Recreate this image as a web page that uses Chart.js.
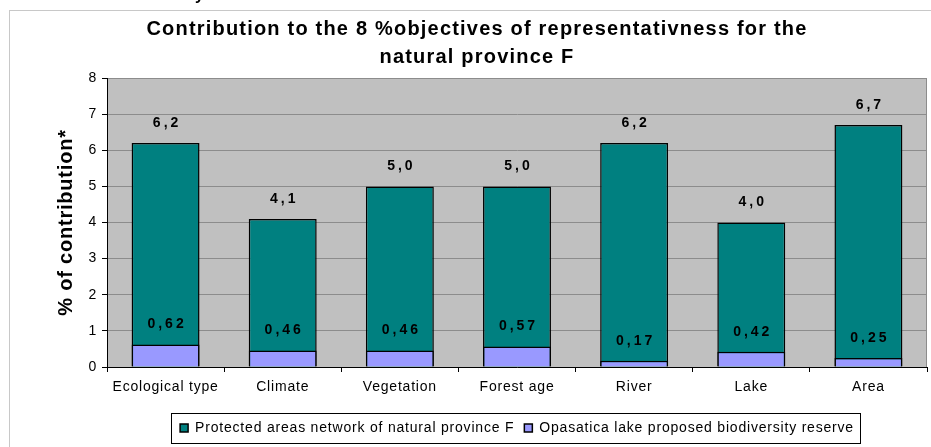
<!DOCTYPE html>
<html>
<head>
<meta charset="utf-8">
<script src="https://cdn.jsdelivr.net/npm/chart.js@4/dist/chart.umd.min.js"></script>
<style>
  html, body { margin: 0; padding: 0; background: #fff; }
  #wrap { width: 931px; height: 447px; }
</style>
</head>
<body>
<div id="wrap"><canvas id="myChart" width="931" height="447"></canvas></div>
<script>
const categories = ['Ecological type', 'Climate', 'Vegetation', 'Forest age', 'River', 'Lake', 'Area'];
const networkValues = [6.2, 4.1, 5.0, 5.0, 6.2, 4.0, 6.7];
const reserveValues = [0.62, 0.46, 0.46, 0.57, 0.17, 0.42, 0.25];
const yTicks = [0, 1, 2, 3, 4, 5, 6, 7, 8];
const titleLines = ['Contribution to the 8 %objectives of representativness for the', 'natural province F'];

const FONT = "'Liberation Sans', Arial, sans-serif";
Chart.defaults.font.family = FONT;
Chart.defaults.color = '#000';

// the source chart has loosely spaced text everywhere
const spacing = {
    id: 'spacing',
    beforeLayout(chart) { chart.ctx.letterSpacing = '0.8px'; },
    beforeDraw(chart) { chart.ctx.letterSpacing = '0.8px'; }
};

// white page, light frame and grey plot area, title
const backgroundPlugin = {
    id: 'background',
    beforeDraw(chart) {
        const ctx = chart.ctx;
        const a = chart.chartArea;
        ctx.save();
        ctx.fillStyle = '#fff';
        ctx.fillRect(0, 0, chart.width, chart.height);
        ctx.strokeStyle = '#c8c8c8';
        ctx.lineWidth = 1;
        ctx.strokeRect(9.5, 10.5, chart.width + 20, chart.height + 20);
        ctx.fillStyle = '#c0c0c0';
        ctx.fillRect(a.left, a.top, a.right - a.left, a.bottom - a.top);
        ctx.strokeStyle = '#8c8c8c';
        ctx.beginPath();
        ctx.moveTo(a.left, a.top + 0.5);
        ctx.lineTo(a.right - 0.5, a.top + 0.5);
        ctx.lineTo(a.right - 0.5, a.bottom);
        ctx.stroke();
        // cut-off text from above the chart
        ctx.fillStyle = '#000';
        ctx.font = 'bold 16px ' + FONT;
        ctx.fillText('y', 195, -4);
        // chart title
        ctx.font = 'bold 20px ' + FONT;
        ctx.letterSpacing = '1.2px';
        ctx.textAlign = 'center';
        ctx.textBaseline = 'middle';
        titleLines.forEach((line, i) => ctx.fillText(line, 477, 29 + i * 28));
        ctx.restore();
    }
};

// value labels above every bar
const valueLabels = {
    id: 'valueLabels',
    afterDatasetsDraw(chart) {
        const ctx = chart.ctx;
        ctx.save();
        ctx.font = 'bold 14px ' + FONT;
        ctx.fillStyle = '#000';
        ctx.textAlign = 'center';
        ctx.textBaseline = 'middle';
        ctx.letterSpacing = '3px';
        chart.data.datasets.forEach((ds, i) => {
            const meta = chart.getDatasetMeta(i);
            meta.data.forEach((bar, j) => {
                const txt = ds.data[j].toFixed(ds.decimals).replace('.', ',');
                ctx.fillText(txt, bar.x + 1.5, bar.y - 20);
            });
        });
        ctx.restore();
    }
};

// box around the legend
const legendBox = {
    id: 'legendBox',
    afterDraw(chart) {
        const hb = chart.legend.legendHitBoxes;
        if (!hb || !hb.length) return;
        const left = Math.min(...hb.map(h => h.left)) - 9;
        const right = Math.max(...hb.map(h => h.left + h.width)) + 6;
        const cy = hb[0].top + hb[0].height / 2;
        const ctx = chart.ctx;
        ctx.save();
        ctx.strokeStyle = '#000';
        ctx.lineWidth = 1;
        ctx.strokeRect(Math.round(left) + 0.5, Math.round(cy - 15) + 0.5, Math.round(right - left), 30);
        ctx.restore();
    }
};

const canvas = document.getElementById('myChart');
new Chart(canvas, {
    type: 'bar',
    data: {
        labels: categories,
        datasets: [{
            label: 'Protected areas network of natural province F',
            data: networkValues,
            decimals: 1,
            backgroundColor: '#008080',
            borderColor: '#000',
            borderWidth: 1.5,
            order: 1,
        }, {
            label: 'Opasatica lake proposed biodiversity reserve',
            data: reserveValues,
            decimals: 2,
            backgroundColor: '#9999ff',
            borderColor: '#000',
            borderWidth: 1.5,
            order: 0,
        }],
    },
    options: {
        responsive: false,
        animation: false,
        layout: { padding: { left: 21, right: 4, top: 78, bottom: 2 } },
        datasets: {
            bar: { grouped: false, barPercentage: 0.58, categoryPercentage: 1.0 }
        },
        plugins: {
            title: { display: false },
            legend: {
                position: 'bottom',
                fullSize: false,
                labels: {
                    boxWidth: 8,
                    boxHeight: 8,
                    padding: 10,
                    font: { size: 14 },
                    color: '#000',
                    sort: (a, b) => a.datasetIndex - b.datasetIndex,
                },
            },
            tooltip: { enabled: false },
        },
        scales: {
            x: {
                grid: { offset: true, drawOnChartArea: false, tickLength: 5, tickColor: '#000' },
                border: { color: '#000', width: 1 },
                ticks: { font: { size: 14 }, padding: 7, maxRotation: 0 },
                afterFit(scale) { scale.height = 44; },
            },
            y: {
                min: 0,
                max: 8,
                afterBuildTicks(scale) { scale.ticks = yTicks.map(v => ({ value: v })); },
                grid: { color: '#8c8c8c', tickLength: 5, tickColor: '#000' },
                border: { color: '#000', width: 1 },
                ticks: { font: { size: 14 }, padding: 5 },
                title: {
                    display: true,
                    text: '% of contribution*',
                    font: { size: 20, weight: 'bold' },
                    color: '#000',
                    padding: { top: 33 },
                },
                afterFit(scale) { scale.width = 86; },
            },
        },
    },
    plugins: [spacing, backgroundPlugin, valueLabels, legendBox],
});
</script>
</body>
</html>
